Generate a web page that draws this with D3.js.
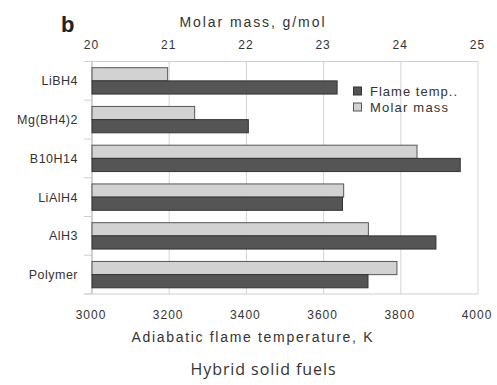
<!DOCTYPE html>
<html><head><meta charset="utf-8">
<script src="https://cdn.jsdelivr.net/npm/d3@7"></script>
<style>body{margin:0;background:#fff}svg{display:block}text{font-family:"Liberation Sans",Arial,sans-serif;fill:#333}</style>
</head><body>
<svg id="c" width="497" height="385"></svg>
<script>
const categories = ["LiBH4","Mg(BH4)2","B10H14","LiAlH4","AlH3","Polymer"];
const flameTemp = [3635,3405,3954,3649,3891,3715];
const molarMass = [20.98,21.33,24.21,23.26,23.58,23.95];
const tempTicks = [3000,3200,3400,3600,3800,4000];
const massTicks = [20,21,22,23,24,25];
const seriesNames = ["Flame temp..","Molar mass"];

const svg = d3.select("#c");
const L=92, R=478, T=61.5, B=294;
const x = d3.scaleLinear().domain([3000,4000]).range([L,R]);
const x2 = d3.scaleLinear().domain([20,25]).range([L,R]);
const y = d3.scaleBand().domain(categories).range([T,B]).padding(0);
const y1 = d3.scaleBand().domain(["molar","flame"]).range([0,y.bandwidth()]).paddingInner(0).paddingOuter(0.47);

// gridlines
svg.append("g").selectAll("line").data(tempTicks).join("line")
  .attr("x1",d=>x(d)).attr("x2",d=>x(d)).attr("y1",T).attr("y2",B)
  .attr("stroke","#d4d4d4").attr("stroke-width",1);
svg.append("line").attr("x1",L-8).attr("x2",R).attr("y1",T).attr("y2",T).attr("stroke","#cfcfcf");
svg.append("line").attr("x1",L-8).attr("x2",R).attr("y1",B).attr("y2",B).attr("stroke","#cfcfcf");
svg.append("g").selectAll("line").data(d3.range(categories.length+1)).join("line")
  .attr("x1",L-8).attr("x2",L).attr("y1",i=>T+i*y.step()).attr("y2",i=>T+i*y.step())
  .attr("stroke","#cfcfcf");
svg.append("line").attr("x1",L).attr("x2",L).attr("y1",T).attr("y2",B).attr("stroke","#bbb");

// bars
const g = svg.append("g");
categories.forEach((c,i)=>{
  g.append("rect").attr("x",x2(20)).attr("y",y(c)+y1("molar"))
   .attr("width",x2(molarMass[i])-x2(20)).attr("height",y1.bandwidth())
   .attr("fill","#d2d2d2").attr("stroke","#555").attr("stroke-width",1);
  g.append("rect").attr("x",x(3000)).attr("y",y(c)+y1("flame"))
   .attr("width",x(flameTemp[i])-x(3000)).attr("height",y1.bandwidth())
   .attr("fill","#555").attr("stroke","#333").attr("stroke-width",1);
});

// tick labels
svg.append("g").selectAll("text").data(tempTicks).join("text")
  .attr("x",d=>x(d)-1).attr("y",319).attr("text-anchor","middle").attr("font-size",12)
  .attr("letter-spacing",1).text(d=>d);
svg.append("g").selectAll("text").data(massTicks).join("text")
  .attr("x",d=>x2(d)-0.5).attr("y",48.5).attr("text-anchor","middle").attr("font-size",12)
  .attr("letter-spacing",1).text(d=>d);
svg.append("g").selectAll("text").data(categories).join("text")
  .attr("x",78).attr("y",c=>y(c)+y.bandwidth()/2+4.5).attr("text-anchor","end").attr("font-size",12.5)
  .attr("letter-spacing",0.5).text(d=>d);

svg.append("text").attr("x",252).attr("y",342).attr("text-anchor","middle").attr("font-size",14)
  .attr("textLength",241).attr("lengthAdjust","spacing").text("Adiabatic flame temperature, K");
svg.append("text").attr("x",252).attr("y",27).attr("text-anchor","middle").attr("font-size",14)
  .attr("textLength",145).attr("lengthAdjust","spacing").text("Molar mass, g/mol");
svg.append("text").attr("x",61).attr("y",31.5).attr("font-size",22).attr("font-weight","bold").style("fill","#222").text("b");
svg.append("text").attr("x",263).attr("y",375).attr("text-anchor","middle").attr("font-size",16)
  .attr("textLength",145).attr("lengthAdjust","spacing")
  .style("font-family","'Open Sans',sans-serif").text("Hybrid solid fuels");

// legend
const lg = svg.append("g");
const lcol = ["#555","#d2d2d2"], lstr=["#333","#555"];
const lw = [87,78];
seriesNames.forEach((s,i)=>{
  lg.append("rect").attr("x",353.5).attr("y",87+i*16).attr("width",8).attr("height",8)
    .attr("fill",lcol[i]).attr("stroke",lstr[i]);
  lg.append("text").attr("x",370).attr("y",96+i*16).attr("font-size",13)
    .attr("textLength",lw[i]).attr("lengthAdjust","spacing").text(s);
});
</script>
</body></html>
